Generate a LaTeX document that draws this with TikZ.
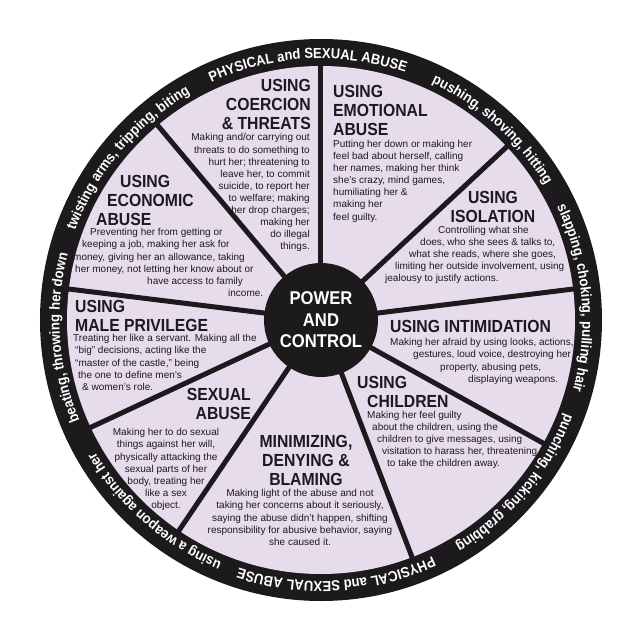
\documentclass[tikz,border=0pt]{standalone}
\usepackage{fontspec}
\setmainfont{Liberation Sans}
\newfontfamily\headfont{Liberation Sans}[FakeStretch=0.9]
\usepackage{tikz}
\usetikzlibrary{decorations.text}

\definecolor{wheelink}{HTML}{1C1A1D}
\definecolor{wheellilac}{HTML}{E7DCEB}

\newcommand{\ringfont}{\headfont\bfseries\fontsize{14.5}{14.5}\selectfont}
% text round the black rim, centred on an angle, read clockwise
\newcommand{\ringlabel}[2]{%
  \path[decorate, decoration={text along path, text align=center,
    text color=white, text={|\ringfont|#2}}]
    (#1+40:261.5) arc[start angle=#1+40, end angle=#1-40, radius=261.5];}

\tikzset{
  sectorhead/.style={font=\headfont\bfseries\fontsize{17.5}{18.8}\selectfont,
    text=wheelink, inner sep=0pt},
  sectorbody/.style={font=\fontsize{10}{12.1}\selectfont,
    text=wheelink, inner sep=0pt},
  spoke/.style={draw=wheelink, line width=5pt},
}

\begin{document}
\begin{tikzpicture}[x=1pt,y=1pt]
\useasboundingbox[fill=white] (-321,-307) rectangle (319,320);

% Wheel
\fill[wheelink] (0,0) circle[radius=281];
\fill[wheellilac] (0,0) circle[radius=254];

% Spokes
\foreach \a in {130,90,43,7,-29,-69,-124,-155,-187}
  \draw[spoke] (0,0) -- (\a:256);

% Hub
\node[circle, fill=wheelink, minimum size=114pt, inner sep=0pt, text=white,
  align=center, font=\headfont\bfseries\fontsize{18.5}{21.5}\selectfont]
  (hub) at (0,0) {POWER\\AND\\CONTROL};

% Ring text
\ringlabel{93}{PHYSICAL and SEXUAL ABUSE}
\ringlabel{48}{pushing, shoving, hitting}
\ringlabel{5}{slapping, choking, pulling hair}
\ringlabel{-40}{punching, kicking, grabbing}
\ringlabel{-86.5}{PHYSICAL and SEXUAL ABUSE}
\ringlabel{-131}{using a weapon against her}
\ringlabel{-176}{beating, throwing her down}
\ringlabel{140}{twisting arms, tripping, biting}

% Coercion
\node[sectorhead, anchor=north east, align=right] (coercionhead) at (-10,241)
  {USING\\COERCION\\\&~THREATS};
\node[sectorbody, anchor=north east, align=right] (coercionbody) at (-11,186.5)
  {Making and/or carrying out\\threats to do something to\\hurt her; threatening to\\
   leave her, to commit\\suicide, to report her\\to welfare; making\\
   her drop charges;\\making her\\do illegal\\things.};

% Emotional abuse
\node[sectorhead, anchor=north west, align=left] (emotionhead) at (12,235)
  {USING\\EMOTIONAL\\ABUSE};
\node[sectorbody, anchor=north west, align=left] (emotionbody) at (12,180)
  {Putting her down or making her\\feel bad about herself, calling\\
   her names, making her think\\she's crazy, mind games,\\humiliating her \&\\
   making her\\feel guilty.};

% Isolation
\node[sectorhead, anchor=north, align=center] (isolationhead) at (172,129)
  {USING\\ISOLATION};
\node[sectorbody, anchor=north west, align=left] (isolationbody) at (64,94)
  {\hspace*{53pt}Controlling what she\\\hspace*{35pt}does, who she sees \& talks to,\\
   \hspace*{24pt}what she reads, where she goes,\\
   \hspace*{10pt}limiting her outside involvement, using\\jealousy to justify actions.};

% Intimidation
\node[sectorhead, anchor=north west] (intimidationhead) at (69,0)
  {USING INTIMIDATION};
\node[sectorbody, anchor=north west, align=left] (intimidationbody) at (69,-18.4)
  {Making her afraid by using looks, actions,\\
   \hspace*{23pt}gestures, loud voice, destroying her\\
   \hspace*{50pt}property, abusing pets,\\\hspace*{78pt}displaying weapons.};

% Children
\node[sectorhead, anchor=north west, align=left] (childrenhead) at (36,-56)
  {USING\\\hspace*{10pt}CHILDREN};
\node[sectorbody, anchor=north west, align=left] (childrenbody) at (46,-91)
  {Making her feel guilty\\\hspace*{5pt}about the children, using the\\
   \hspace*{10pt}children to give messages, using\\
   \hspace*{15pt}visitation to harass her, threatening\\
   \hspace*{20pt}to take the children away.};

% Minimizing
\node[sectorhead, anchor=north, align=center] (minimizinghead) at (-15,-115)
  {MINIMIZING,\\DENYING \&\\BLAMING};
\node[sectorbody, anchor=north, align=center] (minimizingbody) at (-21,-169.4)
  {Making light of the abuse and not\\taking her concerns about it seriously,\\
   saying the abuse didn't happen, shifting\\
   responsibility for abusive behavior, saying\\she caused it.};

% Sexual abuse
\node[sectorhead, anchor=north east, align=right] (sexualhead) at (-70,-68)
  {SEXUAL\\ABUSE};
\node[sectorbody, anchor=north, align=center] (sexualbody) at (-155,-108.4)
  {Making her to do sexual\\things against her will,\\physically attacking the\\
   sexual parts of her\\body, treating her\\like a sex\\object.};

% Male privilege
\node[sectorhead, anchor=north west, align=left] (malehead) at (-246,20)
  {USING\\MALE PRIVILEGE};
\node[sectorbody, anchor=north west, align=left] (malebody) at (-248,-14.4)
  {Treating her like a servant. Making all the\\
   \hspace*{2pt}“big” decisions, acting like the\\
   \hspace*{2pt}“master of the castle,” being\\
   \hspace*{5pt}the one to define men's\\\hspace*{9pt}\& women's role.};

% Economic abuse
\node[sectorhead, anchor=north west, align=left] (economichead) at (-225,145)
  {\hspace*{24pt}USING\\\hspace*{11pt}ECONOMIC\\ABUSE};
\node[sectorbody, anchor=north west, align=left] (economicbody) at (-248,91.6)
  {\hspace*{17pt}Preventing her from getting or\\
   \hspace*{9pt}keeping a job, making her ask for\\
   money, giving her an allowance, taking\\
   \hspace*{2pt}her money, not letting her know about or\\
   \hspace*{74pt}have access to family\\\hspace*{155pt}income.};

\end{tikzpicture}
\end{document}
